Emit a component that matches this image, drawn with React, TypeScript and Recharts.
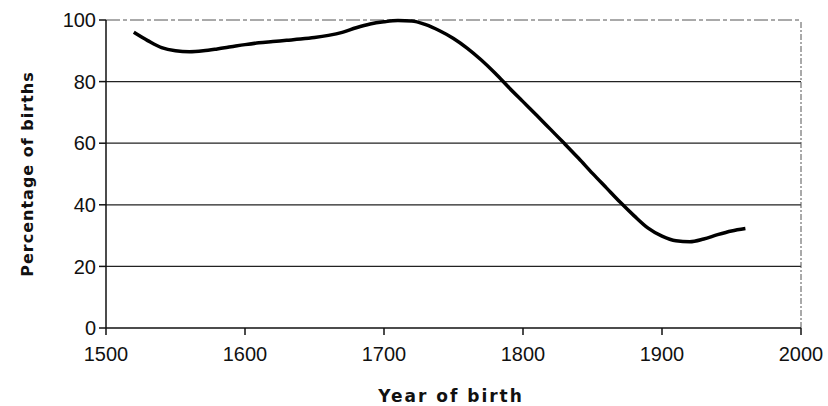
import { LineChart, Line, XAxis, YAxis, CartesianGrid, ReferenceLine, Label } from "recharts";

// Year of birth and percentage of births
const years = [
  1520, 1530, 1540, 1550, 1560, 1570, 1580, 1590, 1600, 1610, 1620, 1630, 1640, 1650, 1660,
  1670, 1680, 1690, 1700, 1710, 1720, 1730, 1740, 1750, 1760, 1770, 1780, 1790, 1800, 1810,
  1820, 1830, 1840, 1850, 1860, 1870, 1880, 1890, 1900, 1910, 1920, 1930, 1940, 1950, 1960,
];
const percentages = [
  96, 93.3, 91, 90, 89.7, 90, 90.6, 91.3, 92, 92.6, 93, 93.4, 93.8, 94.3, 95,
  96, 97.5, 98.7, 99.4, 99.8, 99.7, 98.5, 96.5, 94, 90.8, 87, 82.7, 78, 73.5, 69,
  64.4, 59.8, 55.1, 50.2, 45.5, 40.8, 36.4, 32.4, 29.8, 28.3, 28, 28.9, 30.3, 31.5, 32.3,
];

const xTicks = [1500, 1600, 1700, 1800, 1900, 2000];
const yTicks = [0, 20, 40, 60, 80, 100];
const gridValues = [20, 40, 60, 80];

const data = years.map((year, i) => ({ year, pct: percentages[i] }));

const tickStyle = { fill: "#111", fontSize: 20, fontFamily: "Liberation Sans" };
const titleFont = "DejaVu Sans";

export default function App() {
  return (
    <div style={{ position: "absolute", left: 0, top: 0, width: 828, height: 406, background: "#fff" }}>
      <LineChart
        width={828}
        height={406}
        data={data}
        margin={{ top: 20, right: 27, left: 6, bottom: 8 }}
      >
        <CartesianGrid vertical={false} horizontalValues={gridValues} stroke="#222" strokeWidth={1.2} />
        <ReferenceLine y={100} stroke="#555" strokeDasharray="14 3 4 3" strokeWidth={1} />
        <ReferenceLine x={2000} stroke="#555" strokeDasharray="6 2 2 2" strokeWidth={1} />
        <XAxis
          type="number"
          dataKey="year"
          domain={[1500, 2000]}
          ticks={xTicks}
          height={70}
          stroke="#111"
          strokeWidth={1.5}
          tickSize={7}
          tickMargin={12}
          tick={tickStyle}
        >
          <Label
            content={() => (
              <text
                x={451}
                y={402}
                textAnchor="middle"
                fontFamily={titleFont}
                fontWeight="bold"
                fontSize={17}
                letterSpacing={2}
                fill="#111"
              >
                Year of birth
              </text>
            )}
          />
        </XAxis>
        <YAxis
          type="number"
          domain={[0, 100]}
          ticks={yTicks}
          width={100}
          stroke="#111"
          strokeWidth={1.5}
          tickSize={7}
          tickMargin={3}
          tick={tickStyle}
        >
          <Label
            content={() => (
              <text
                x={33}
                y={174}
                transform="rotate(-90 33 174)"
                textAnchor="middle"
                fontFamily={titleFont}
                fontWeight="bold"
                fontSize={16}
                letterSpacing={1}
                fill="#111"
              >
                Percentage of births
              </text>
            )}
          />
        </YAxis>
        <Line
          type="monotone"
          dataKey="pct"
          stroke="#000"
          strokeWidth={3.5}
          dot={false}
          isAnimationActive={false}
        />
      </LineChart>
    </div>
  );
}
